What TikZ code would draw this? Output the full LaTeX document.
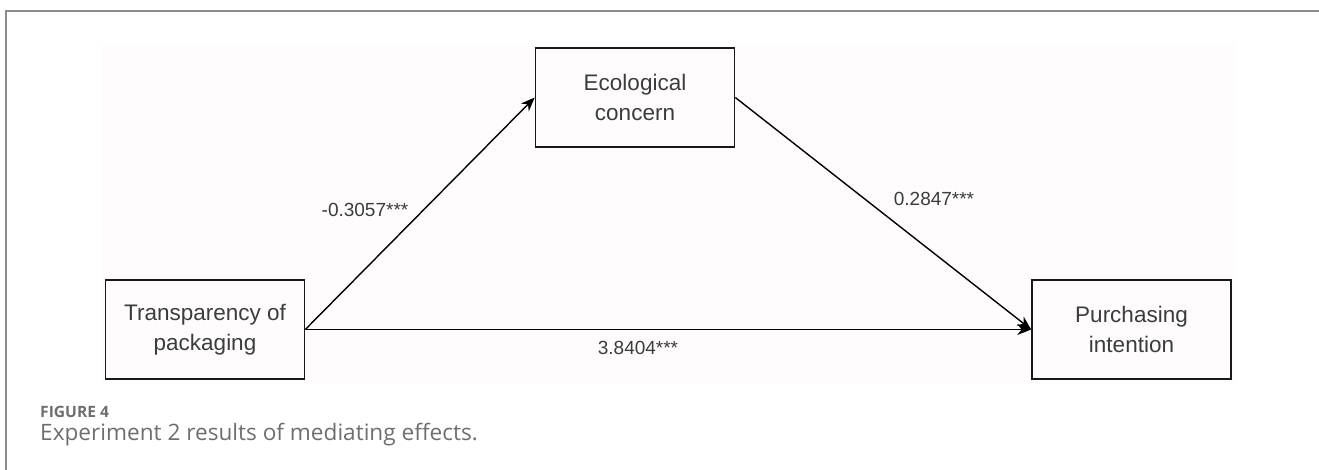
\documentclass[tikz,border=0pt]{standalone}
\usepackage{fontspec}
\setmainfont{Liberation Sans}
\newfontfamily\capfont{Open Sans}
\usepackage{tikz}
\usetikzlibrary{arrows.meta,positioning}
\usepackage{xcolor}
\definecolor{Cadre}{RGB}{140,140,140}
\definecolor{Fond}{RGB}{254,252,252}
\definecolor{Encre}{RGB}{60,60,60}
\definecolor{Legende}{RGB}{110,110,110}

\begin{document}
\begin{tikzpicture}[x=1pt,y=-1pt,
  box/.style={draw=black!90,line width=1.6pt,minimum width=199pt,minimum height=99pt,
    inner sep=0pt,align=center,text=Encre,font=\fontsize{22.5}{30}\selectfont},
  link/.style={line width=1.4pt,-{Stealth[length=14pt,width=11pt]}},
  coef/.style={text=Encre,font=\fontsize{19}{22}\selectfont},
  legend/.style={anchor=west,text=Legende,inner sep=0pt}]
\useasboundingbox (0,0) rectangle (1319,470);
\draw[Cadre,line width=2pt] (6,470) -- (6,11) -- (1319,11);
\fill[Fond] (102,43) rectangle (1236,383);
%
\node[box] (trans) at (205,329.5) {Transparency of\\packaging};
\node[box] (eco) at (635,97.5) {Ecological\\concern};
\node[box] (purch) at (1131.5,329.5) {Purchasing\\intention};
%
\draw[link] (trans.east) -- (eco.west);
\draw[link] (eco.east) -- (purch.west);
\draw[link,line width=1.9pt] (trans.east) -- (purch.west);
%
\node[coef] (a) at (365,210) {-0.3057***};
\node[coef] (b) at (934,199) {0.2847***};
\node[coef] (c) at (638,348) {3.8404***};
%
\node[legend,scale=1.04] (fig) at (40,412) {\capfont\fontsize{15}{18}\selectfont\bfseries FIGURE 4};
\node[legend,scale=1.13] (cap) at (40,435) {\capfont\fontsize{20}{24}\selectfont Experiment 2 results of mediating effects.};
\end{tikzpicture}
\end{document}
